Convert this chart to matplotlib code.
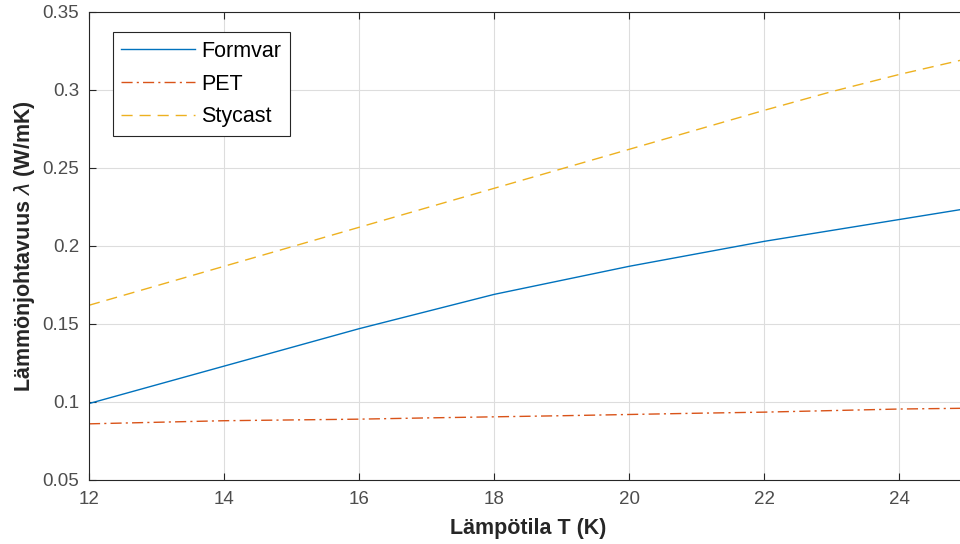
import numpy as np
import matplotlib.pyplot as plt

plt.rcParams['font.family'] = ['Liberation Sans', 'DejaVu Sans']
plt.rcParams['mathtext.fontset'] = 'dejavusans'

temp = [12, 13, 14, 15, 16, 17, 18, 19, 20, 21, 22, 23, 24, 25]
formvar = [0.099, 0.111, 0.123, 0.135, 0.147, 0.158, 0.169, 0.178, 0.187,
           0.195, 0.203, 0.210, 0.217, 0.224]
pet = [0.086, 0.087, 0.088, 0.0885, 0.089, 0.0898, 0.0905, 0.0912, 0.092,
       0.0928, 0.0935, 0.0945, 0.0955, 0.096]
stycast = [0.162, 0.1745, 0.187, 0.1995, 0.212, 0.2245, 0.237, 0.2495, 0.262,
           0.2745, 0.287, 0.299, 0.310, 0.320]

fig = plt.figure(figsize=(9.6, 5.44), dpi=100)
ax = fig.add_axes([89 / 960, 64 / 544, 878 / 960, 468 / 544])

ax.plot(temp, formvar, color="#0072BD", lw=1.0, label="Formvar")
ax.plot(temp, pet, color="#D95319", lw=1.0, ls=(0, (8, 3, 1.5, 3)), label="PET")
ax.plot(temp, stycast, color="#EDB120", lw=1.0, ls=(0, (8, 5)), label="Stycast")

ax.set_xlim(12, 25)
ax.set_ylim(0.05, 0.35)
ax.set_xticks([12, 14, 16, 18, 20, 22, 24])
ax.set_yticks([0.05, 0.1, 0.15, 0.2, 0.25, 0.3, 0.35])
ax.set_yticklabels(["0.05", "0.1", "0.15", "0.2", "0.25", "0.3", "0.35"])
ax.grid(True, color="#dddddd", lw=0.8)
ax.tick_params(direction="in", length=5, top=True, right=True,
               labelsize=13.5, colors="#262626")
ax.tick_params(axis="x", pad=8)
ax.tick_params(axis="y", pad=7)
for lbl in ax.get_xticklabels() + ax.get_yticklabels():
    lbl.set_color("#4d4d4d")
for s in ax.spines.values():
    s.set_color("#262626")
    s.set_linewidth(0.8)

ax.set_xlabel("Lämpötila T (K)", fontsize=15.5, fontweight="bold",
              color="#262626", labelpad=7)
ax.set_ylabel(r"Lämmönjohtavuus $\lambda$ (W/mK)", fontsize=15.5,
              fontweight="bold", color="#262626", labelpad=4)

leg = ax.legend(loc="upper left", bbox_to_anchor=(0.027, 0.957), fontsize=15.5,
                fancybox=False, edgecolor="#262626", framealpha=1,
                handlelength=3.4, handletextpad=0.3, borderpad=0.4,
                labelspacing=0.55, borderaxespad=0)
leg.get_frame().set_linewidth(0.8)

fig.savefig("out.png", dpi=100)
